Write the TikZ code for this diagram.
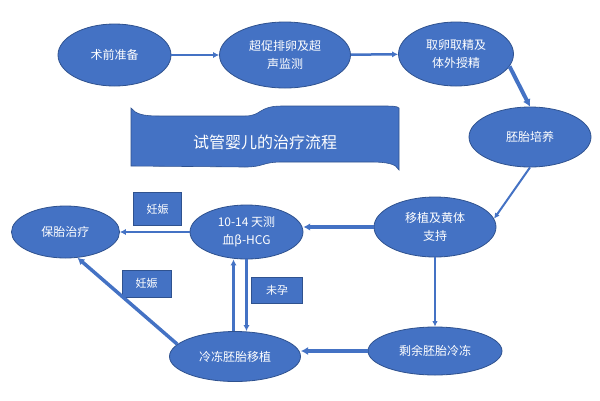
\documentclass[tikz,border=0pt]{standalone}
\usepackage{fontspec}
\newfontfamily\cjk{Noto Sans CJK SC}
\usetikzlibrary{shapes.geometric,arrows.meta}
\definecolor{ivfblue}{HTML}{4472C4}
\definecolor{ivfedge}{HTML}{2F528F}

\begin{document}
\begin{tikzpicture}[
        x=1pt, y=-1pt,
        stage/.style={ellipse, fill=ivfblue, draw=ivfedge, line width=0.8pt,
          text=white, align=center, inner sep=0pt,
          font=\cjk\fontsize{12}{18}\selectfont},
        tag/.style={rectangle, fill=ivfblue, draw=ivfedge, line width=0.8pt,
          text=white, inner sep=0pt, font=\cjk\fontsize{11}{12}\selectfont},
        arr/.style={draw=ivfblue, line width=2.5pt,
          -{Latex[length=4pt 0.8, width=3pt 1.3]}}
      ]
        % 画布
        \fill[white] (0,0) rectangle (600,400);
        \useasboundingbox (0,0) rectangle (600,400);
        % 标题横幅
        \filldraw[fill=ivfblue, draw=ivfedge, line width=0.6pt]
          (131,108) .. controls (136,114) and (142,116) .. (160,116)
          -- (245,116) .. controls (262,116) and (258,106) .. (282,106)
          -- (380,106) .. controls (392,106) and (397,106) .. (399,108)
          -- (399,170) .. controls (396,164) and (388,162) .. (370,162)
          -- (282,162) .. controls (262,162) and (264,167) .. (245,167)
          -- (131,166) -- cycle;
        \node[text=white, font=\cjk\fontsize{16}{18}\selectfont] (title) at (265,142.5) {试管婴儿的治疗流程};
        % 第一行
        \node[stage, minimum width=113pt, minimum height=62pt] (n1) at (114.5,55) {术前准备};
        \node[stage, minimum width=131pt, minimum height=66pt] (n2) at (285,55) {超促排卵及超\\声监测};
        \node[stage, minimum width=115pt, minimum height=64pt] (n3) at (456,54) {取卵取精及\\体外授精};
        % 右侧
        \node[stage, minimum width=122pt, minimum height=60pt] (n4) at (530,137) {胚胎培养};
        \node[stage, minimum width=122pt, minimum height=60pt] (n5) at (435,227) {移植及黄体\\支持};
        % 中间一行
        \node[stage, minimum width=113pt, minimum height=54pt] (n6) at (246.5,232) {10-14 天测\\血β-HCG};
        \node[stage, minimum width=108pt, minimum height=52pt] (n7) at (65.5,232) {保胎治疗};
        % 最下一行
        \node[stage, minimum width=131pt, minimum height=50pt] (n8) at (235,356.5) {冷冻胚胎移植};
        \node[stage, minimum width=134pt, minimum height=48pt] (n9) at (435,351) {剩余胚胎冷冻};
        % 标注框
        \node[tag, minimum width=48pt, minimum height=33pt] (t1) at (157.5,209) {妊娠};
        \node[tag, minimum width=49pt, minimum height=27pt] (t2) at (146.5,283.5) {妊娠};
        \node[tag, minimum width=51pt, minimum height=26pt] (t3) at (277,290.5) {未孕};
        % 箭头
        \draw[arr] (n1) -- (n2);
        \draw[arr] (n2) -- (n3);
        \draw[arr, line width=4pt] (n3.-13) -- (n4.north);
        \draw[arr, line width=2pt] (n4.south) -- (n5.8);
        \draw[arr, line width=3.5pt] (n5.west) -- (n5.west -| n6.east);
        \draw[arr] (n6.west) -- (n7.east);
        \draw[arr, line width=2pt] (n5.south) -- (n9.north);
        \draw[arr, line width=4pt] (n9.west) -- (n9.west -| n8.east);
        \draw[arr] ([xshift=-1.5pt]n8.north) -- ([xshift=-1.5pt]n8.north |- n6.south);
        \draw[arr] (n6.south) -- (n6.south |- n8.north);
        \draw[arr, line width=3.5pt] (n8.168) -- (n7.-65);
      \end{tikzpicture}
\end{document}
